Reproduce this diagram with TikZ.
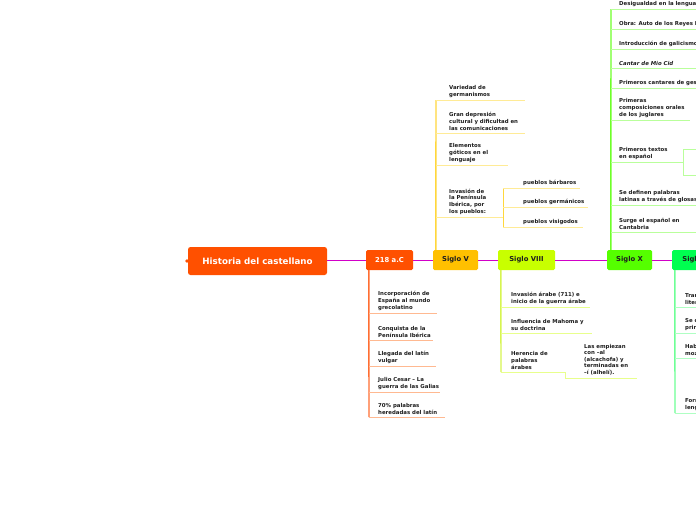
\documentclass[tikz,border=0pt]{standalone}
\usepackage{fontspec}
\setmainfont{DejaVu Sans}
\usetikzlibrary{calc}
\definecolor{cRoot}{RGB}{255,80,0}
\definecolor{cA}{RGB}{255,80,0}
\definecolor{cAv}{RGB}{255,110,50}
\definecolor{cAu}{RGB}{255,185,145}
\definecolor{cB}{RGB}{255,192,0}
\definecolor{cBv}{RGB}{255,215,60}
\definecolor{cBu}{RGB}{255,235,150}
\definecolor{cC}{RGB}{200,255,0}
\definecolor{cCv}{RGB}{215,245,80}
\definecolor{cCu}{RGB}{232,255,140}
\definecolor{cD}{RGB}{85,255,0}
\definecolor{cDv}{RGB}{110,255,40}
\definecolor{cDu}{RGB}{185,255,155}
\definecolor{cE}{RGB}{0,255,80}
\definecolor{cEv}{RGB}{110,255,150}
\definecolor{cEu}{RGB}{175,255,195}
\definecolor{cMag}{RGB}{210,0,200}
\definecolor{cTxt}{RGB}{30,30,30}
\newcommand{\leaf}[7]{%
  \coordinate (#1a) at (#2,#4);
  \coordinate (#1b) at (#5,#4);
  \draw[#6] (#1a) -- (#1b);
  \node[leaftext, anchor=south west] (#1) at (#3,#4-2.6) {#7};
}
\begin{document}
\begin{tikzpicture}[x=1pt,y=-1pt,
  mainbox/.style={rounded corners=1.5pt, minimum height=20pt, inner sep=0pt,
    font=\fontsize{6.8}{8}\selectfont\bfseries},
  leaftext/.style={inner sep=0pt, align=left, text=cTxt,
    font=\fontsize{5.4}{6.6}\selectfont\bfseries},
  link/.style={draw=cMag, line width=1pt},
  vA/.style={draw=cAv, line width=1.4pt}, uA/.style={draw=cAu, line width=0.9pt},
  vB/.style={draw=cBv, line width=1.4pt}, uB/.style={draw=cBu, line width=0.9pt},
  vC/.style={draw=cCv, line width=1.4pt}, uC/.style={draw=cCu, line width=0.9pt},
  vD/.style={draw=cDv, line width=1.4pt}, uD/.style={draw=cDu, line width=0.9pt},
  vE/.style={draw=cEv, line width=1.4pt}, uE/.style={draw=cEu, line width=0.9pt}]
\clip (0,0) rectangle (696,520);
\fill[white] (0,0) rectangle (696,520);

% main nodes
\fill[cRoot] (187,261) circle (1.8pt);
\node[mainbox, fill=cRoot, text=white, minimum width=139pt, minimum height=28pt,
  rounded corners=2.5pt, font=\fontsize{8.7}{10}\selectfont\bfseries]
  (root) at (257.5,261) {Historia del castellano};
\node[mainbox, fill=cA, text=white, minimum width=47pt] (nA) at (389.5,260) {218 a.C};
\node[mainbox, fill=cB, text=cTxt, minimum width=45pt] (nB) at (455.5,260) {Siglo V};
\node[mainbox, fill=cC, text=cTxt, minimum width=57pt] (nC) at (526.5,260) {Siglo VIII};
\node[mainbox, fill=cD, text=cTxt, minimum width=45pt] (nD) at (629.5,260) {Siglo X};
\node[mainbox, fill=cE, text=cTxt, minimum width=50pt] (nE) at (697,260) {Siglo XI};

\draw[link] (root.east |- nA.west) -- (nA.west);
\draw[link] (nA.east) -- (nB.west);
\draw[link] (nB.east) -- (nC.west);
\draw[link] (nC.east) -- (nD.west);
\draw[link] (nD.east) -- (nE.west);

% 218 a.C
\coordinate (endA) at (369,417);
\draw[vA] ($(nA.south west)+(3,0)$) -- (endA);
\leaf{a1}{369}{378}{313}{437}{uA}{Incorporación de\\España al mundo\\grecolatino}
\leaf{a2}{369}{378}{340}{433}{uA}{Conquista de la\\Península Ibérica}
\leaf{a3}{369}{378}{366}{436}{uA}{Llegada del latín\\vulgar}
\leaf{a4}{369}{378}{392}{440}{uA}{Julio Cesar – La\\guerra de las Galias}
\leaf{a5}{369}{378}{417}{445}{uA}{70\% palabras\\heredadas del latín}

% Siglo V
\coordinate (endB) at (436,100);
\draw[vB] ($(nB.north west)+(3,0)$) -- (endB);
\leaf{b1}{436}{449}{100}{525}{uB}{Variedad de\\germanismos}
\leaf{b2}{436}{449}{133}{525}{uB}{Gran depresión\\cultural y dificultad en\\las comunicaciones}
\leaf{b3}{436}{449}{165}{508}{uB}{Elementos\\góticos en el\\lenguaje}
\leaf{b4}{436}{449}{217}{503}{uB}{Invasión de\\la Península\\Ibérica, por\\los pueblos:}
\coordinate (b4top) at (503,188);
\coordinate (b4bot) at (503,227);
\draw[vB, line width=1pt] (b4top) -- (b4bot);
\leaf{b41}{503}{523}{188}{580}{uB}{pueblos bárbaros}
\leaf{b42}{503}{523}{207}{588}{uB}{pueblos germánicos}
\leaf{b43}{503}{523}{227}{583}{uB}{pueblos visigodos}

% Siglo VIII
\coordinate (endC) at (501,372);
\draw[vC] ($(nC.south west)+(3,0)$) -- (endC);
\leaf{c1}{501}{511}{307}{590}{uC}{Invasión árabe (711) e\\inicio de la guerra árabe}
\leaf{c2}{501}{511}{333}{592}{uC}{Influencia de Mahoma y\\su doctrina}
\leaf{c3}{501}{511}{372}{565}{uC}{Herencia de\\palabras\\árabes}
\draw[uC] (c3b) -- (565,378);
\leaf{c31}{565}{584}{378}{637}{uC}{Las empiezan\\con –al\\(alcachofa) y\\terminadas en\\–í (alhelí).}

% Siglo X
\coordinate (endD) at (611,9);
\draw[vD] ($(nD.north west)+(4,0)$) -- (endD);
\leaf{d1}{611}{619}{9}{700}{uD}{Desigualdad en la lengua}
\leaf{d2}{611}{619}{29}{700}{uD}{Obra: Auto de los Reyes Magos}
\leaf{d3}{611}{619}{49}{700}{uD}{Introducción de galicismos}
\leaf{d4}{611}{619}{68.5}{700}{uD}{\itshape Cantar de Mio Cid}
\leaf{d5}{611}{619}{88}{700}{uD}{Primeros cantares de gesta}
\leaf{d6}{611}{619}{120}{690}{uD}{Primeras\\composiciones orales\\de los juglares}
\leaf{d7}{611}{619}{162}{683}{uD}{Primeros textos\\en español}
\coordinate (d7t) at (683,149);
\coordinate (d7u) at (683,175);
\draw[uD] (700,149) -- (d7t) -- (d7u) -- (700,175);
\leaf{d8}{611}{619}{205}{700}{uD}{Se definen palabras\\latinas a través de glosas}
\leaf{d9}{611}{619}{232}{700}{uD}{Surge el español en\\Cantabria}

% Siglo XI
\coordinate (endE) at (675,413);
\draw[vE] ($(nE.south west)+(3,0)$) -- (endE);
\leaf{e1}{675}{685}{307}{700}{uE}{Transmisión de obras\\literarias}
\leaf{e2}{675}{685}{333}{700}{uE}{Se crean los\\principales dialectos}
\leaf{e3}{675}{685}{358}{700}{uE}{Hablas\\mozárabes}
\leaf{e4}{675}{685}{413}{700}{uE}{Formación de la\\lengua}
\end{tikzpicture}
\end{document}
